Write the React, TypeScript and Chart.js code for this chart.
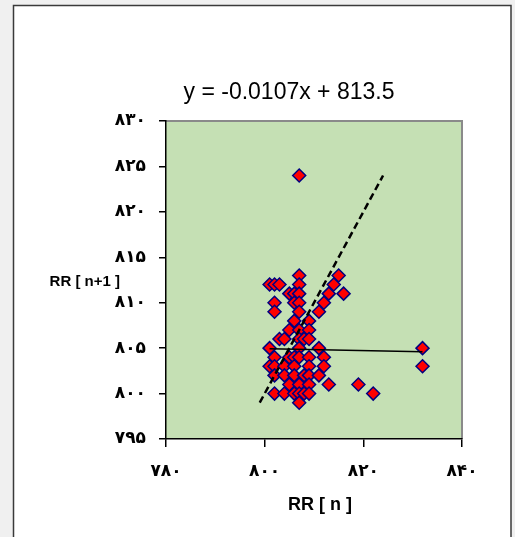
import React, { useEffect, useRef } from 'react';
import { Chart, registerables } from 'chart.js';

Chart.register(...registerables);

// RR[n] (x) and RR[n+1] (y) pairs
const rrN = [
  807,
  807, 815,
  801, 802, 803, 807, 814,
  805, 806, 807, 813, 816,
  802, 806, 807, 812,
  802, 807, 811,
  806, 809,
  805, 807, 809,
  803, 804, 807, 808, 809,
  801, 807, 811, 832,
  802, 805, 806, 807, 809, 812,
  801, 802, 804, 806, 809, 812, 832,
  802, 804, 806, 808, 809, 811,
  805, 807, 809, 813, 819,
  802, 804, 806, 807, 808, 809, 822,
  807,
];
const rrN1 = [
  824,
  813, 813,
  812, 812, 812, 812, 812,
  811, 811, 811, 811, 811,
  810, 810, 810, 810,
  809, 809, 809,
  808, 808,
  807, 807, 807,
  806, 806, 806, 806, 806,
  805, 805, 805, 805,
  804, 804, 804, 804, 804, 804,
  803, 803, 803, 803, 803, 803, 803,
  802, 802, 802, 802, 802, 802,
  801, 801, 801, 801, 801,
  800, 800, 800, 800, 800, 800, 800,
  799,
];

const xTicks = [780, 800, 820, 840];
const yTicks = [795, 800, 805, 810, 815, 820, 825, 830];

const trendSlope = -0.0107;
const trendIntercept = 813.5;

const titleText = 'y = -0.0107x + 813.5';
const xTitle = 'RR [ n ]';
const yTitle = 'RR [ n+1 ]';

const persianDigits = '۰۱۲۳۴۵۶۷۸۹';
const toPersian = (v: number | string) => String(v).replace(/\d/g, (d) => persianDigits[+d]);

export default function App() {
  const ref = useRef<HTMLCanvasElement | null>(null);

  useEffect(() => {
    const canvas = ref.current;
    if (!canvas) return;

    const points = rrN.map((x, i) => ({ x, y: rrN1[i] }));
    const xMin = Math.min(...rrN);
    const xMax = Math.max(...rrN);
    const yMin = Math.min(...rrN1);
    const yMax = Math.max(...rrN1);
    const trend = [
      { x: xMin, y: trendSlope * xMin + trendIntercept },
      { x: xMax, y: trendSlope * xMax + trendIntercept },
    ];
    const identity = [
      { x: yMin, y: yMin },
      { x: yMax, y: yMax },
    ];

    const framePlugin = {
      id: 'frame',
      beforeDraw(chart: any) {
        const { ctx, chartArea: a } = chart;
        ctx.save();
        ctx.fillStyle = '#f0f0f0';
        ctx.fillRect(0, 0, chart.width, chart.height);
        ctx.fillStyle = '#ffffff';
        ctx.fillRect(13, 5, 498, chart.height);
        ctx.strokeStyle = '#3a3a3a';
        ctx.lineWidth = 1.5;
        ctx.strokeRect(13.5, 5.5, 497.5, chart.height + 10);
        ctx.fillStyle = '#c5e0b4';
        ctx.fillRect(a.left, a.top, a.right - a.left, a.bottom - a.top);
        ctx.strokeStyle = '#8a8a8a';
        ctx.lineWidth = 2;
        ctx.beginPath();
        ctx.moveTo(a.left, a.top);
        ctx.lineTo(a.right, a.top);
        ctx.lineTo(a.right, a.bottom);
        ctx.stroke();
        ctx.restore();
      },
      afterDraw(chart: any) {
        const { ctx } = chart;
        ctx.save();
        ctx.fillStyle = '#000';
        ctx.textBaseline = 'middle';
        ctx.textAlign = 'center';
        ctx.font = '23px Arial, "Liberation Sans", sans-serif';
        ctx.fillText(titleText, 289, 93);
        ctx.font = 'bold 18px Arial, "Liberation Sans", sans-serif';
        ctx.fillText(xTitle, 320, 505);
        ctx.font = 'bold 15px Arial, "Liberation Sans", sans-serif';
        ctx.textAlign = 'right';
        ctx.fillText(yTitle, 120, 282);
        ctx.restore();
      },
    };

    const tickFont = { family: '"DejaVu Sans", sans-serif', size: 17, weight: 'bold' as const };

    const chart = new Chart(canvas, {
      type: 'scatter',
      data: {
        datasets: [
          {
            label: 'identity',
            data: identity,
            showLine: true,
            borderColor: '#000',
            borderWidth: 2.5,
            borderDash: [7, 4],
            pointRadius: 0,
            order: 0,
          },
          {
            label: 'trend',
            data: trend,
            showLine: true,
            borderColor: '#000',
            borderWidth: 1.5,
            pointRadius: 0,
            order: 0,
          },
          {
            label: 'RR',
            data: points,
            pointStyle: 'rectRot',
            pointRadius: 6.5,
            pointHoverRadius: 6.5,
            backgroundColor: '#ff0000',
            borderColor: '#000080',
            borderWidth: 1.5,
            order: 1,
          },
        ],
      },
      options: {
        animation: false,
        responsive: false,
        layout: { padding: { left: 0, right: 53, top: 121, bottom: 0 } },
        plugins: {
          legend: { display: false },
          tooltip: { enabled: false },
          title: { display: false },
        },
        scales: {
          x: {
            type: 'linear',
            min: 780,
            max: 840,
            afterBuildTicks: (scale: any) => {
              scale.ticks = xTicks.map((v) => ({ value: v }));
            },
            afterFit: (scale: any) => {
              scale.height = 98;
            },
            ticks: {
              color: '#000',
              font: tickFont,
              padding: 14,
              maxRotation: 0,
              callback: (v: any) => toPersian(v),
            },
            grid: {
              drawOnChartArea: false,
              drawTicks: true,
              tickLength: 8,
              color: '#000',
              lineWidth: 1.5,
            },
            border: { display: true, color: '#000', width: 1.5 },
          },
          y: {
            type: 'linear',
            min: 795,
            max: 830,
            afterBuildTicks: (scale: any) => {
              scale.ticks = yTicks.map((v) => ({ value: v }));
            },
            afterFit: (scale: any) => {
              scale.width = 166;
            },
            ticks: {
              color: '#000',
              font: tickFont,
              padding: 13,
              callback: (v: any) => toPersian(v),
            },
            grid: {
              drawOnChartArea: false,
              drawTicks: true,
              tickLength: 7,
              color: '#000',
              lineWidth: 1.5,
            },
            border: { display: true, color: '#000', width: 1.5 },
          },
        },
      },
      plugins: [framePlugin],
    } as any);

    return () => chart.destroy();
  }, []);

  return (
    <div style={{ position: 'fixed', left: 0, top: 0, width: 515, height: 537 }}>
      <canvas ref={ref} width={515} height={537} style={{ display: 'block', width: 515, height: 537 }} />
    </div>
  );
}
